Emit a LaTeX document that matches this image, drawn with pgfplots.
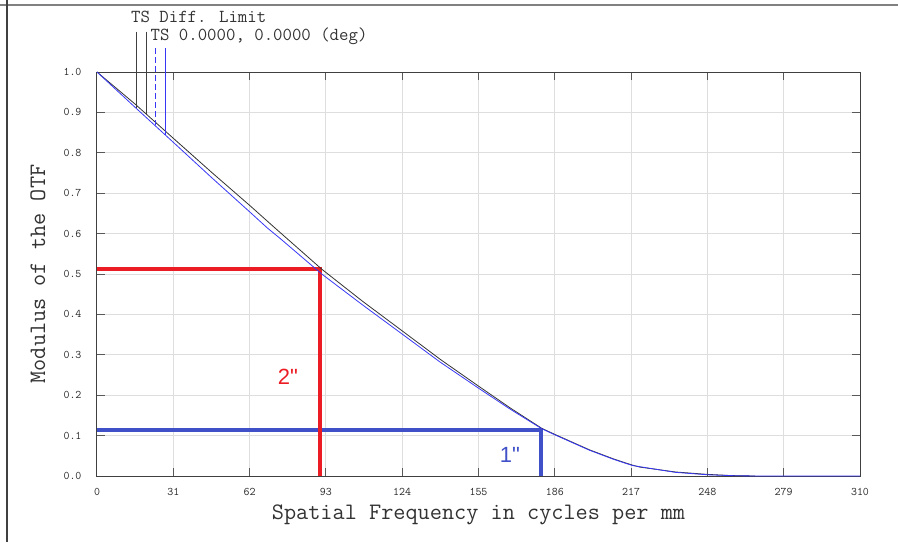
\documentclass[border=0pt]{standalone}
\usepackage{fontspec}
\newfontfamily\arial{Liberation Sans}
\usepackage{pgfplots}
\pgfplotsset{compat=1.18}
\definecolor{mtfblue}{RGB}{55,55,245}
\definecolor{mkred}{RGB}{236,28,36}
\definecolor{mkblue}{RGB}{64,80,200}
\definecolor{gridgray}{RGB}{222,222,222}

\begin{document}
\begin{tikzpicture}
\useasboundingbox (-97pt,-66pt) rectangle (801pt,476pt);
% window frame
\draw[black!50,line width=1.2pt] (-97pt,471pt) -- (801pt,471pt);
\draw[black!75,line width=1.5pt] (-90pt,-66pt) -- (-90pt,476pt);
\begin{axis}[at={(0pt,0pt)},anchor=south west,
 width=763pt,height=404pt,scale only axis,
 xmin=0,xmax=310,ymin=0,ymax=1,
 xtick={0,31,62,93,124,155,186,217,248,279,310},
 ytick={0,0.1,0.2,0.3,0.4,0.5,0.6,0.7,0.8,0.9,1.0},
 tick align=inside,major tick length=8pt,
 grid=major,grid style={gridgray,line width=1pt},
 axis line style={black!75,line width=1pt},
 tick style={black!65,line width=1pt},
 /pgf/number format/assume math mode=true,
 ticklabel style={font=\ttfamily\fontsize{11.6}{13}\selectfont,text=black!85},
 xticklabel style={anchor=center,yshift=-16pt},
 yticklabel style={anchor=center,xshift=-24.5pt,
   /pgf/number format/.cd,fixed,fixed zerofill,precision=1},
 xlabel={Spatial Frequency in cycles per mm},
 ylabel={Modulus of the OTF},
 label style={font=\ttfamily\fontsize{23.6}{26}\selectfont,text=black!80},
 xlabel style={at={(axis description cs:0.5,-0.0965)},anchor=center},
 ylabel style={at={(axis description cs:-0.0773,0.5)},anchor=center},
 clip=false]

% marked levels
\addplot[mkblue,line width=4pt,line join=miter] coordinates {(0,0.114) (180.4,0.114) (180.4,0)};
\addplot[mkred,line width=4pt,line join=miter] coordinates {(0,0.512) (90.6,0.512) (90.6,0)};

% TS diffraction limit
\addplot[black!80,line width=0.8pt] coordinates {
 (0,1.000) (15.4,0.921) (31,0.836) (46.5,0.752) (62,0.670) (72.3,0.614)
 (91.3,0.512) (108,0.432) (124.5,0.357) (139.4,0.289) (155.6,0.220)
 (168,0.168) (180.7,0.118) (186,0.103) (200,0.065) (210,0.042)
 (217.5,0.027) (220.6,0.022) (235,0.010) (248,0.004) (258,0.001) (267.4,0.000)};

% TS 0.0000, 0.0000 (deg)
\addplot[mtfblue,line width=0.8pt] coordinates {
 (0,1.000) (15.4,0.913) (31,0.826) (46.5,0.739) (62,0.654) (69.2,0.614)
 (74.4,0.588) (91.3,0.500) (108,0.423) (124.5,0.349) (139.4,0.282)
 (155.6,0.215) (168,0.165) (180.7,0.117) (186,0.102) (200,0.064)
 (210,0.041) (217.5,0.026) (235,0.009) (248,0.003) (260,0.0005)
 (270,0) (310,0)};

% legend leader lines
\addplot[black!75,line width=0.8pt] coordinates {(15.85,1.0998) (15.85,0.912)};
\addplot[black!75,line width=0.8pt] coordinates {(19.9,1.0998) (19.9,0.894)};
\addplot[mtfblue,line width=0.8pt,dash pattern=on 6pt off 3pt] coordinates {(23.7,1.0587) (23.7,0.870)};
\addplot[mtfblue,line width=0.8pt] coordinates {(27.75,1.0587) (27.75,0.845)};

\node[mkred,font=\arial\fontsize{22}{24}\selectfont] at (axis cs:77.6,0.246) {2"};
\node[mkblue,font=\arial\fontsize{22}{24}\selectfont] at (axis cs:167.8,0.052) {1"};
\end{axis}
\node[anchor=base west,inner sep=0pt,font=\ttfamily\fontsize{18.3}{20}\selectfont,text=black!80] at (34pt,453.2pt) {TS Diff. Limit};
\node[anchor=base west,inner sep=0pt,font=\ttfamily\fontsize{18.3}{20}\selectfont,text=black!80] at (53.5pt,435.3pt) {TS 0.0000, 0.0000 (deg)};
\end{tikzpicture}
\end{document}
